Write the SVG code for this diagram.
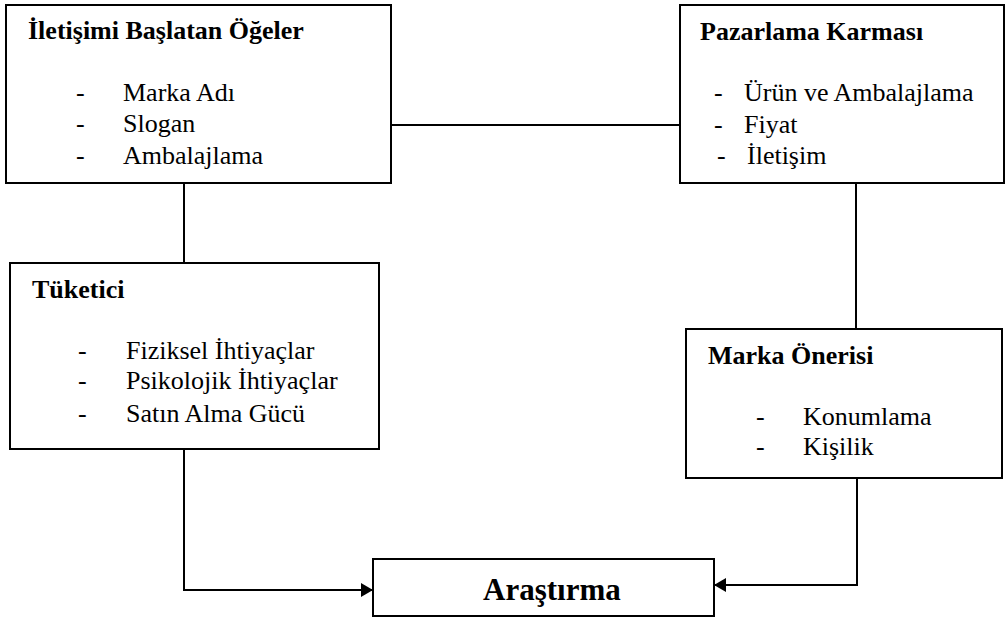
<svg xmlns="http://www.w3.org/2000/svg" width="1008" height="618" viewBox="0 0 1008 618">
  <style>
    .box { fill: #ffffff; stroke: #000000; stroke-width: 2; }
    .wire { fill: none; stroke: #000000; stroke-width: 2; }
    text { font-family: 'Liberation Serif', 'Times New Roman', serif; fill: #000000; }
    .title { font-weight: bold; font-size: 26px; }
    .item { font-size: 26px; }
    .big { font-weight: bold; font-size: 31px; }
  </style>
  <defs>
    <marker id="head" viewBox="0 0 12 14" refX="12" refY="7" markerWidth="12" markerHeight="14" markerUnits="userSpaceOnUse" orient="auto">
      <path d="M0,0 L12,7 L0,14 Z" fill="#000000"/>
    </marker>
  </defs>
  <rect width="1008" height="618" fill="#ffffff"/>

  <!-- connectors -->
  <g id="connectors">
    <line class="wire" x1="391" y1="125" x2="680" y2="125"/>
    <line class="wire" x1="184" y1="183" x2="184" y2="263"/>
    <line class="wire" x1="856" y1="183" x2="856" y2="329"/>
    <polyline class="wire" points="184,449 184,590 373,590" marker-end="url(#head)"/>
    <polyline class="wire" points="857,478 857,585 714,585" marker-end="url(#head)"/>
  </g>

  <!-- communication-initiating elements -->
  <g id="iletisim">
    <rect class="box" x="6" y="5" width="385" height="178"/>
    <text class="title" x="28" y="39">İletişimi Başlatan Öğeler</text>
    <text class="item" x="76" y="101">-</text>
    <text class="item" x="123" y="101">Marka Adı</text>
    <text class="item" x="76" y="132">-</text>
    <text class="item" x="123" y="132">Slogan</text>
    <text class="item" x="76" y="164">-</text>
    <text class="item" x="123" y="164">Ambalajlama</text>
  </g>

  <!-- marketing mix -->
  <g id="pazarlama">
    <rect class="box" x="680" y="5" width="324" height="178"/>
    <text class="title" x="700" y="40">Pazarlama Karması</text>
    <text class="item" x="714" y="101">-</text>
    <text class="item" x="744" y="101">Ürün ve Ambalajlama</text>
    <text class="item" x="714" y="133">-</text>
    <text class="item" x="744" y="133">Fiyat</text>
    <text class="item" x="717" y="164">-</text>
    <text class="item" x="747" y="164">İletişim</text>
  </g>

  <!-- consumer -->
  <g id="tuketici">
    <rect class="box" x="10" y="263" width="369" height="186"/>
    <text class="title" x="32" y="298">Tüketici</text>
    <text class="item" x="78" y="359">-</text>
    <text class="item" x="126" y="359">Fiziksel İhtiyaçlar</text>
    <text class="item" x="78" y="389">-</text>
    <text class="item" x="126" y="389">Psikolojik İhtiyaçlar</text>
    <text class="item" x="78" y="422">-</text>
    <text class="item" x="126" y="422">Satın Alma Gücü</text>
  </g>

  <!-- brand proposition -->
  <g id="marka-onerisi">
    <rect class="box" x="686" y="329" width="316" height="149"/>
    <text class="title" x="708" y="364">Marka Önerisi</text>
    <text class="item" x="756" y="425">-</text>
    <text class="item" x="803" y="425">Konumlama</text>
    <text class="item" x="756" y="455">-</text>
    <text class="item" x="803" y="455">Kişilik</text>
  </g>

  <!-- research -->
  <g id="arastirma">
    <rect class="box" x="373" y="559" width="341" height="57"/>
    <text class="big" x="483" y="600">Araştırma</text>
  </g>
</svg>
